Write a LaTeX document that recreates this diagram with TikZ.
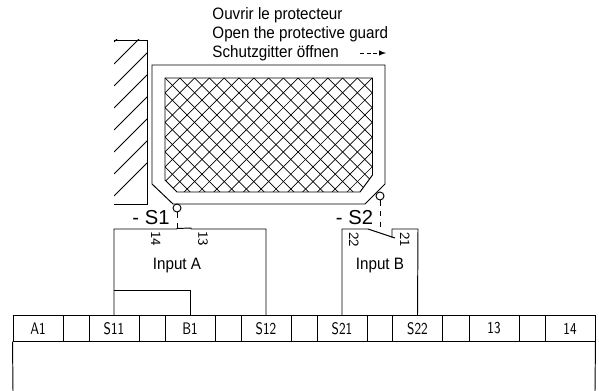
\documentclass[tikz,border=0pt]{standalone}
\usepackage{fontspec}
\setmainfont{Liberation Sans}
\setsansfont{Latin Modern Sans}
\tikzset{
  term/.style={draw=black, minimum width=1cm, minimum height=0.51cm, inner sep=0pt},
  termtxt/.style={inner sep=0pt, transform shape, xscale=0.77, font=\sffamily\fontsize{9.5}{10}\selectfont},
  contact/.style={inner sep=0pt, rotate=-90, font=\sffamily\fontsize{8}{9}\selectfont},
  caption/.style={inner sep=0pt, transform shape, xscale=0.92, font=\fontsize{9.4}{10}\selectfont},
  tag/.style={inner sep=0pt, anchor=base, font=\fontsize{11.5}{12}\selectfont},
  ring/.style={draw, circle, inner sep=0pt, minimum size=0.16cm}
}
\begin{document}
\begin{tikzpicture}[x=0.02cm, y=-0.02cm, line width=0.55pt]
  \useasboundingbox (0,0) rectangle (599,391);
  % wall
  \begin{scope}
    \clip (114,40) rectangle (147,204);
    \foreach \k in {42,64,...,216}
      \draw[line width=0.45pt] (114,\k) -- ++(60,-60);
  \end{scope}
  \draw (114,40) -- (147,40) -- (147,204) -- (114,204);
  % guard
  \draw (173,204) -- (152,184) -- (152,65) -- (385,65) -- (385,184) -- (365,204) -- cycle;
  \begin{scope}
    \clip (165,78) -- (372.5,78) -- (372.5,175) -- (360,192) -- (177,192) -- (165,180) -- cycle;
    \foreach \k in {0,1,...,40} {
      \draw[line width=0.4pt] (165+\k*14.8-340.4,78) -- ++(240,240);
      \draw[line width=0.4pt] (165+\k*14.8,78) -- ++(-240,240);
    }
  \end{scope}
  \draw (165,78) -- (372.5,78) -- (372.5,175) -- (360,192) -- (177,192) -- (165,180) -- cycle;
  % texts
  \node[caption, anchor=base west] (open1) at (212,19.5) {Ouvrir le protecteur};
  \node[caption, anchor=base west] (open2) at (212,38.5) {Open the protective guard};
  \node[caption, anchor=base west] (open3) at (212,57.5) {Schutzgitter öffnen};
  \coordinate (dash1) at (360,53);
  \coordinate (dash2) at (386,53);
  \draw[line width=0.35pt, dash pattern=on 2.2pt off 1.6pt, -latex] (dash1) -- (dash2);
  % terminals
  \foreach \name/\x/\txt in {a1/38/A1, s11/114/S11, b1/190/B1, s12/266/S12, s21/342/S21, s22/417.5/S22, t13/494/13, t14/570/14} {
    \node[term] (\name) at (\x,328.5) {};
    \node[termtxt] (\name txt) at (\x,328.5) {\txt};
  }
  \draw (a1.north west) -- (t14.north east) (a1.south west) -- (t14.south east);
  \draw (a1.south west) -- (13,391) (t14.south east) -- (595,391);
  % S1
  \node[ring] (c1) at (177,208) {};
  \coordinate (a) at (177,229);
  \coordinate (b) at (191,229);
  \draw[dashed] (c1) -- (a);
  \draw (s11.north) |- (a) -- (177,228.5) -- (191,228) -- (b) -| (s12.north);
  \draw (s11.north |- 0,290) -| (b1.north);
  \node[tag] (s1) at (151,225) {- S1};
  \node[contact] (n14) at (156,239) {14};
  \node[contact] (n13) at (203,239) {13};
  \node[caption, anchor=base] (ina) at (177,270) {Input A};
  % S2
  \node[ring] (c2) at (380,196) {};
  \coordinate (d) at (380,230);
  \draw[dashed] (c2) -- (d);
  \coordinate (e) at (368,229);
  \coordinate (f) at (395,238);
  \coordinate (g) at (392,238);
  \draw (s21.north) |- (e) -- (f);
  \draw (g) |- (418,229) -- (s22.north);
  \node[tag] (s2) at (354.5,225) {- S2};
  \node[contact] (n22) at (354,240) {22};
  \node[contact] (n21) at (405,240) {21};
  \node[caption, anchor=base] (inb) at (380,270) {Input B};
\end{tikzpicture}
\end{document}
